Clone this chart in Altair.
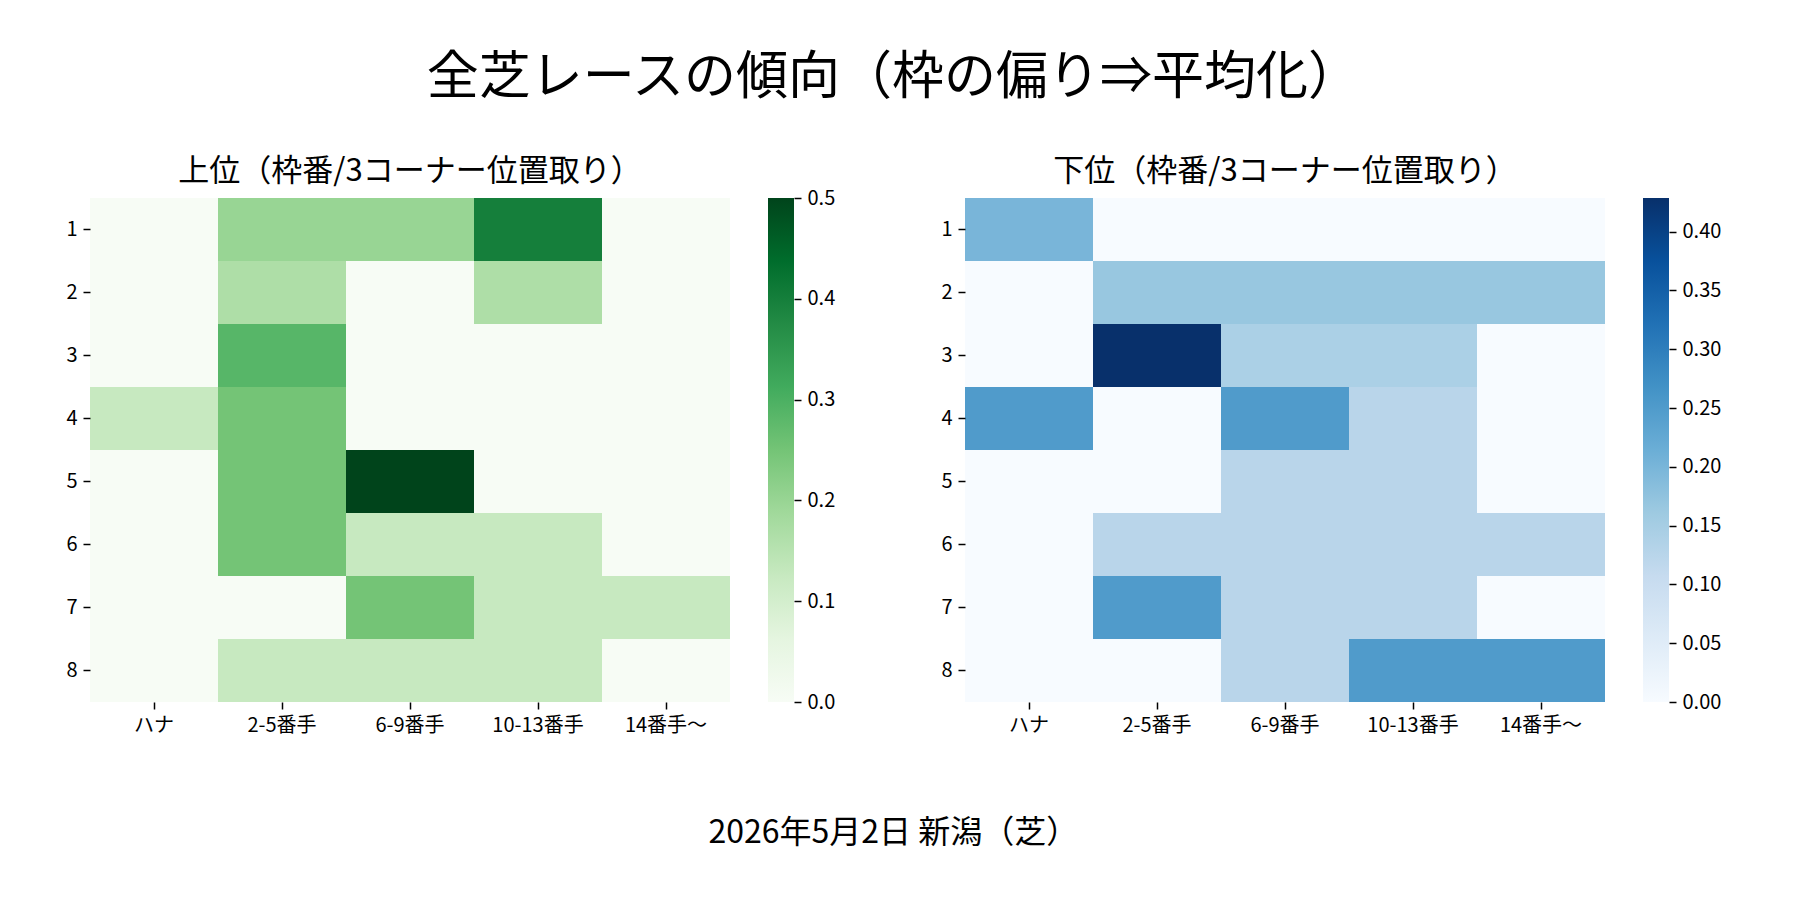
import altair as alt
import pandas as pd

FONT = "Noto Sans CJK JP"

main_title = "全芝レースの傾向（枠の偏り⇒平均化）"
footer_text = "2026年5月2日 新潟（芝）"
top_title = "上位（枠番/3コーナー位置取り）"
bottom_title = "下位（枠番/3コーナー位置取り）"

positions = ["ハナ", "2-5番手", "6-9番手", "10-13番手", "14番手〜"]
waku = ["1", "2", "3", "4", "5", "6", "7", "8"]

# rows = 枠番 1..8, columns = positions
top_rows = [
    [0.0, 0.2, 0.2, 0.4, 0.0],
    [0.0, 0.1667, 0.0, 0.1667, 0.0],
    [0.0, 0.2857, 0.0, 0.0, 0.0],
    [0.125, 0.25, 0.0, 0.0, 0.0],
    [0.0, 0.25, 0.5, 0.0, 0.0],
    [0.0, 0.25, 0.125, 0.125, 0.0],
    [0.0, 0.0, 0.25, 0.125, 0.125],
    [0.0, 0.125, 0.125, 0.125, 0.0],
]
bottom_rows = [
    [0.2, 0.0, 0.0, 0.0, 0.0],
    [0.0, 0.1667, 0.1667, 0.1667, 0.1667],
    [0.0, 0.4286, 0.1429, 0.1429, 0.0],
    [0.25, 0.0, 0.25, 0.125, 0.0],
    [0.0, 0.0, 0.125, 0.125, 0.0],
    [0.0, 0.125, 0.125, 0.125, 0.125],
    [0.0, 0.25, 0.125, 0.125, 0.0],
    [0.0, 0.0, 0.125, 0.25, 0.25],
]

greens = ["#f7fcf5", "#e5f5e0", "#c7e9c0", "#a1d99b", "#74c476",
          "#41ab5d", "#238b45", "#006d2c", "#00441b"]
blues = ["#f7fbff", "#deebf7", "#c6dbef", "#9ecae1", "#6baed6",
         "#4292c6", "#2171b5", "#08519c", "#08306b"]

top_ticks = [0.0, 0.1, 0.2, 0.3, 0.4, 0.5]
bottom_ticks = [0.0, 0.05, 0.10, 0.15, 0.20, 0.25, 0.30, 0.35, 0.40]

W, H = 640, 504
CBW = 26


def to_long(rows):
    recs = []
    for i, w in enumerate(waku):
        for j, p in enumerate(positions):
            recs.append({"waku": w, "pos": p, "v": rows[i][j]})
    return pd.DataFrame(recs)


def heat(rows, colors, title):
    vmax = max(max(r) for r in rows)
    dom = [vmax * i / 8 for i in range(9)]
    return alt.Chart(to_long(rows)).mark_rect(strokeWidth=0).encode(
        x=alt.X("pos:N", sort=positions, title=None,
                axis=alt.Axis(labelAngle=0, labelPadding=6)),
        y=alt.Y("waku:N", sort=waku, title=None,
                axis=alt.Axis(labelAngle=0, labelPadding=6)),
        color=alt.Color("v:Q", legend=None,
                        scale=alt.Scale(domain=dom, range=colors, interpolate="rgb")),
    ).properties(
        width=W, height=H,
        title=alt.TitleParams(title, fontSize=31, font=FONT, fontWeight="normal",
                              color="black", offset=10, frame="group", anchor="middle"),
    )


def cbar(rows, colors, ticks, fmt):
    vmax = max(max(r) for r in rows)
    df = pd.DataFrame({"lo": [0.0], "hi": [vmax]})
    grad = alt.Gradient(
        gradient="linear",
        stops=[alt.GradientStop(offset=i / 8, color=c) for i, c in enumerate(colors)],
        x1=0, x2=0, y1=1, y2=0,
    )
    return alt.Chart(df).mark_rect(color=grad, strokeWidth=0).encode(
        y=alt.Y("lo:Q", title=None,
                scale=alt.Scale(domain=[0, vmax], nice=False, zero=True),
                axis=alt.Axis(orient="right", values=ticks, format=fmt, labelPadding=6)),
        y2="hi:Q",
    ).properties(width=CBW, height=H)


left = alt.hconcat(heat(top_rows, greens, top_title),
                   cbar(top_rows, greens, top_ticks, ".1f"), spacing=38)
right = alt.hconcat(heat(bottom_rows, blues, bottom_title),
                    cbar(bottom_rows, blues, bottom_ticks, ".2f"), spacing=38)

main = alt.hconcat(left, right, spacing=105).resolve_scale(color="independent").properties(
    title=alt.TitleParams(footer_text, orient="bottom", anchor="middle", fontSize=32,
                          font=FONT, fontWeight="normal", color="black", offset=83)
)

chart = alt.vconcat(main).resolve_scale(color="independent").properties(
    title=alt.TitleParams(main_title, anchor="middle", fontSize=52, font=FONT,
                          fontWeight="normal", color="black", offset=51),
    padding={"left": 57, "top": 44, "right": 5, "bottom": 5},
    background="white",
).configure_view(stroke=None).configure_axis(
    labelFont=FONT, labelFontSize=20, labelColor="black",
    tickColor="black", tickSize=7, tickWidth=1.5,
    domain=False, grid=False,
)

chart.save("out.html", embed_options={"renderer": "svg", "actions": False})
